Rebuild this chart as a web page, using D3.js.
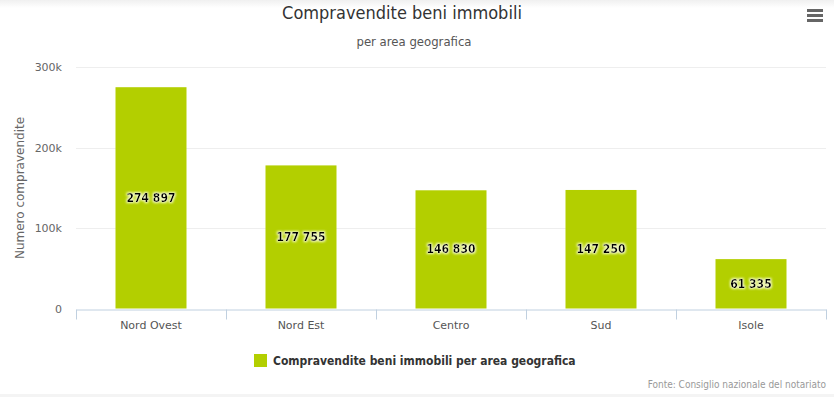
<!DOCTYPE html>
<html>
<head>
<meta charset="utf-8">
<script src="https://cdn.jsdelivr.net/npm/d3@7"></script>
<style>
  body { margin: 0; background: #fff; }
  #chart { width: 834px; height: 397px; }
</style>
</head>
<body>
<div id="chart"></div>
<script>
// Data
var categories = ["Nord Ovest", "Nord Est", "Centro", "Sud", "Isole"];
var values = [274897, 177755, 146830, 147250, 61335];
var yTicks = [0, 100000, 200000, 300000];
var seriesName = "Compravendite beni immobili per area geografica";

var W = 834, H = 397;
var margin = { top: 67, right: 8, bottom: 88, left: 76 };
var condensed = "'DejaVu Sans Condensed', 'DejaVu Sans', sans-serif";
var sans = "Verdana, 'DejaVu Sans', sans-serif";

var svg = d3.select("#chart").append("svg")
    .attr("width", W)
    .attr("height", H);

// top / bottom faint bands
var defs = svg.append("defs");
var grad = defs.append("linearGradient")
    .attr("id", "topband").attr("x1", 0).attr("y1", 0).attr("x2", 0).attr("y2", 1);
grad.append("stop").attr("offset", "0%").attr("stop-color", "#f0f0f0");
grad.append("stop").attr("offset", "100%").attr("stop-color", "#ffffff");
svg.append("rect").attr("width", W).attr("height", 8).attr("fill", "url(#topband)");
svg.append("rect").attr("y", 394).attr("width", W).attr("height", 3).attr("fill", "#f4f4f4");

// glow filter for data labels
var f = defs.append("filter").attr("id", "glow").attr("x", "-20%").attr("y", "-40%")
    .attr("width", "140%").attr("height", "180%");
f.append("feMorphology").attr("in", "SourceAlpha").attr("operator", "dilate").attr("radius", 1).attr("result", "d");
f.append("feGaussianBlur").attr("in", "d").attr("stdDeviation", 1.3).attr("result", "b");
f.append("feFlood").attr("flood-color", "#fbffe0").attr("flood-opacity", 0.9);
f.append("feComposite").attr("in2", "b").attr("operator", "in").attr("result", "g");
var fm = f.append("feMerge");
fm.append("feMergeNode").attr("in", "g");
fm.append("feMergeNode").attr("in", "SourceGraphic");

var x = d3.scaleBand()
    .domain(categories)
    .range([margin.left, W - margin.right])
    .paddingInner(0).paddingOuter(0);

var y = d3.scaleLinear()
    .domain([0, 300000])
    .range([H - margin.bottom - 0.5, margin.top]);

// grid
svg.append("g").selectAll("line")
    .data(yTicks.filter(function(d) { return d > 0; }))
    .enter().append("line")
    .attr("x1", margin.left).attr("x2", W - margin.right)
    .attr("y1", function(d) { return Math.round(y(d)) + 0.5; })
    .attr("y2", function(d) { return Math.round(y(d)) + 0.5; })
    .attr("stroke", "#eeeeee").attr("stroke-width", 1);

// y tick labels
svg.append("g").selectAll("text")
    .data(yTicks)
    .enter().append("text")
    .attr("x", 62)
    .attr("y", function(d) { return y(d) + 4; })
    .attr("text-anchor", "end")
    .style("font-family", sans).style("font-size", "11px").attr("fill", "#666")
    .text(function(d) { return d === 0 ? "0" : (d / 1000) + "k"; });

// y axis title
svg.append("text")
    .attr("transform", "translate(24," + ((margin.top + H - margin.bottom) / 2) + ") rotate(-90)")
    .attr("text-anchor", "middle")
    .style("font-family", sans).style("font-size", "12px").attr("fill", "#666")
    .text("Numero compravendite");

// bars
svg.append("g").selectAll("rect")
    .data(values)
    .enter().append("rect")
    .attr("x", function(d, i) { return x(categories[i]) + (x.bandwidth() - 71) / 2; })
    .attr("width", 71)
    .attr("y", function(d) { return y(d); })
    .attr("height", function(d) { return y(0) - y(d); })
    .attr("fill", "#b3cf00");

// data labels
svg.append("g").selectAll("text")
    .data(values)
    .enter().append("text")
    .attr("x", function(d, i) { return x(categories[i]) + x.bandwidth() / 2; })
    .attr("y", function(d) { return (y(d) + y(0)) / 2 + 4; })
    .attr("text-anchor", "middle")
    .attr("filter", "url(#glow)")
    .style("font-family", condensed).style("font-size", "12px").style("font-weight", "bold")
    .attr("fill", "#000")
    .text(function(d) { return d3.format(",")(d).replace(/,/g, " "); });

// x axis
var xAxis = d3.axisBottom(x).tickSize(0).tickSizeOuter(0);
var gx = svg.append("g")
    .attr("transform", "translate(0," + (Math.round(y(0)) + 0.5) + ")")
    .call(xAxis);
gx.select(".domain").attr("stroke", "#c0d0e0");
gx.selectAll("text")
    .attr("dy", 0).attr("y", 19)
    .style("font-family", sans).style("font-size", "11px").attr("fill", "#555");
// category boundary ticks
gx.append("g").selectAll("line")
    .data(d3.range(categories.length + 1))
    .enter().append("line")
    .attr("x1", function(i) { return margin.left + i * x.step() + 0.5; })
    .attr("x2", function(i) { return margin.left + i * x.step() + 0.5; })
    .attr("y1", 0).attr("y2", 10)
    .attr("stroke", "#c0d0e0");

// title + subtitle
svg.append("text")
    .attr("x", 402).attr("y", 19)
    .attr("text-anchor", "middle")
    .style("font-family", condensed).style("font-size", "18px").attr("fill", "#333")
    .text("Compravendite beni immobili");
svg.append("text")
    .attr("x", 414).attr("y", 46)
    .attr("text-anchor", "middle")
    .style("font-family", condensed).style("font-size", "13px").attr("fill", "#555")
    .text("per area geografica");

// menu icon
svg.append("g").selectAll("rect")
    .data([0, 1, 2])
    .enter().append("rect")
    .attr("x", 807).attr("y", function(d) { return 9 + d * 5; })
    .attr("width", 16).attr("height", 3)
    .attr("fill", "#666");

// legend
var lg = svg.append("g").attr("transform", "translate(254,354)");
lg.append("rect").attr("width", 13).attr("height", 13).attr("fill", "#b3cf00");
lg.append("text")
    .attr("x", 19).attr("y", 11)
    .style("font-family", condensed).style("font-size", "12px").style("font-weight", "bold")
    .attr("fill", "#333")
    .text(seriesName);

// credits
svg.append("text")
    .attr("x", 826).attr("y", 388)
    .attr("text-anchor", "end")
    .style("font-family", condensed).style("font-size", "10px").attr("fill", "#999")
    .text("Fonte: Consiglio nazionale del notariato");
</script>
</body>
</html>
